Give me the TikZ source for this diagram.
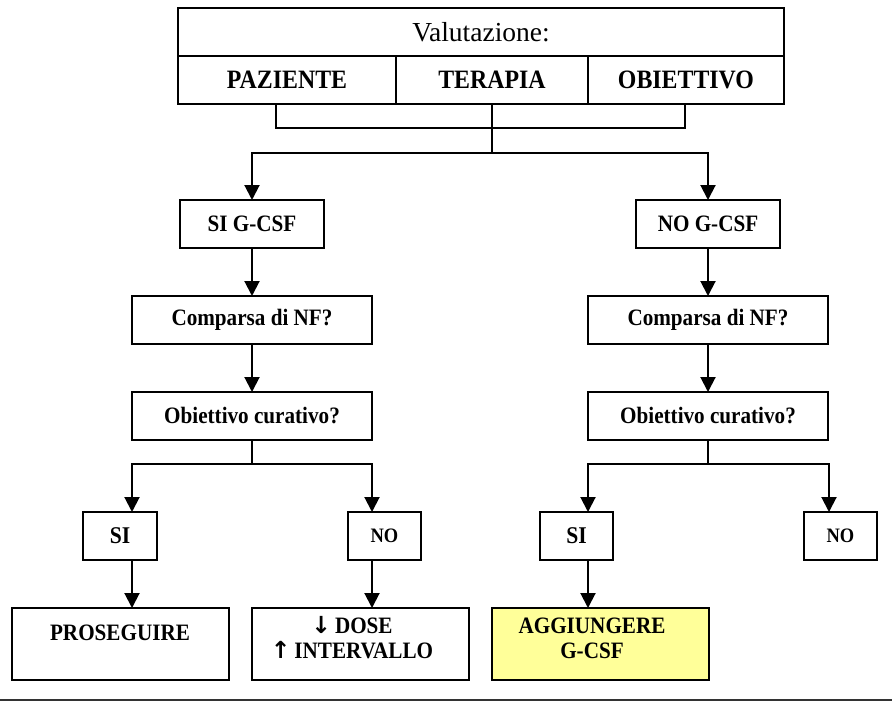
\documentclass[tikz,border=0pt]{standalone}
\usepackage{fontspec}
\setmainfont[BoldFeatures={FakeStretch=0.9}]{Liberation Serif}
\newfontfamily\symfont{DejaVu Sans}
\usetikzlibrary{arrows.meta}

\definecolor{hilite}{HTML}{FFFF99}

\tikzset{
  box/.style={draw, line width=2pt, inner sep=0pt, outer sep=0pt},
  wire/.style={line width=2pt},
  arr/.style={line width=2pt, -{Triangle[width=15pt,length=15pt]}},
  head/.style={font=\fontsize{27.5}{32}\selectfont},
  headb/.style={font=\bfseries\fontsize{26.5}{30}\selectfont},
  txt/.style={font=\bfseries\fontsize{23.5}{27}\selectfont, align=center},
  si/.style={font=\bfseries\fontsize{24}{28}\selectfont},
  small/.style={font=\bfseries\fontsize{20.5}{24}\selectfont},
}

\begin{document}
\begin{tikzpicture}[x=1pt, y=-1pt]
\useasboundingbox (0,0) rectangle (892,702);

% header table
\node[box, head, minimum width=606, minimum height=48] (val) at (481,32) {Valutazione:};
\node[box, headb, minimum width=218, minimum height=48] (paz) at (287,80) {PAZIENTE};
\node[box, headb, minimum width=192, minimum height=48] (ter) at (492,80) {TERAPIA};
\node[box, headb, minimum width=196, minimum height=48] (obi) at (686,80) {OBIETTIVO};

% first level
\node[box, txt, minimum width=144, minimum height=48] (sig) at (252,224) {SI G-CSF};
\node[box, txt, minimum width=144, minimum height=48] (nog) at (708,224) {NO G-CSF};

\node[box, txt, minimum width=240, minimum height=48] (cmpL) at (252,320) {Comparsa di NF?};
\node[box, txt, minimum width=240, minimum height=48] (cmpR) at (708,320) {Comparsa di NF?};

\node[box, txt, minimum width=240, minimum height=48] (obL) at (252,416) {Obiettivo curativo?};
\node[box, txt, minimum width=240, minimum height=48] (obR) at (708,416) {Obiettivo curativo?};

% answers
\node[box, si, minimum width=74, minimum height=48] (siL) at (120,536) {SI};
\node[box, small, minimum width=73, minimum height=48] (noL) at (384.5,536) {NO};
\node[box, si, minimum width=73, minimum height=48] (siR) at (576.5,536) {SI};
\node[box, small, minimum width=73, minimum height=48] (noR) at (840.5,536) {NO};

% actions
\node[box, minimum width=217, minimum height=72] (pros) at (120.5,644) {};
\node[box, minimum width=217, minimum height=72] (dose) at (360.5,644) {};
\node[box, fill=hilite, minimum width=217, minimum height=72] (agg) at (600.5,644) {};

\node[txt] (prosT) at (120,633) {PROSEGUIRE};
\node[txt] (doseT1) at (352,625) {{\symfont ↓}\,DOSE};
\node[txt] (doseT2) at (352,650) {{\symfont ↑}\,INTERVALLO};
\node[txt] (aggT1) at (592,626) {AGGIUNGERE};
\node[txt] (aggT2) at (592,651) {G-CSF};

% bracket under the header
\coordinate (bl) at (276,128);
\coordinate (br) at (685,128);
\coordinate (split) at (492,153);
\draw[wire] ([xshift=-11pt]paz.south) -- (bl) -- (br) -- ([xshift=-1pt]obi.south);
\draw[wire] (ter.south) -- (split);
\draw[arr] (split) -| (sig.north);
\draw[arr] (split) -| (nog.north);

% vertical chains
\draw[arr] (sig) -- (cmpL);
\draw[arr] (cmpL) -- (obL);
\draw[arr] (nog) -- (cmpR);
\draw[arr] (cmpR) -- (obR);

% branches
\coordinate (jL) at (252,464);
\coordinate (jR) at (708,464);
\draw[wire] (obL.south) -- (jL);
\draw[wire] (obR.south) -- (jR);
\draw[arr] (jL) -| ([xshift=12pt]siL.north);
\draw[arr] (jL) -| ([xshift=-12.5pt]noL.north);
\draw[arr] (jR) -| ([xshift=11.5pt]siR.north);
\draw[arr] (jR) -| ([xshift=-11.5pt]noR.north);

\draw[arr] ([xshift=12pt]siL.south) -- ([xshift=11.5pt]pros.north);
\draw[arr] ([xshift=-12.5pt]noL.south) -- ([xshift=11.5pt]dose.north);
\draw[arr] ([xshift=11.5pt]siR.south) -- ([xshift=-12.5pt]agg.north);

% rule along the bottom
\draw[line width=2.2pt, black!80] (0,700) -- (892,700);
\end{tikzpicture}
\end{document}
